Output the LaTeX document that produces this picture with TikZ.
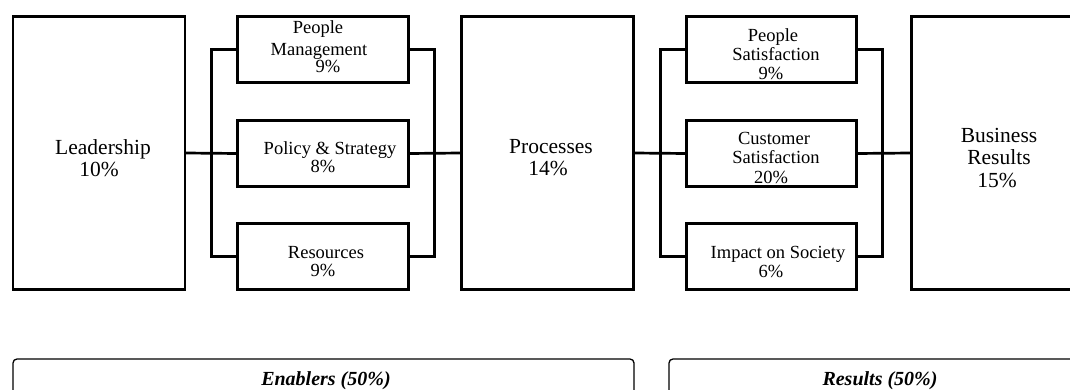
\documentclass[tikz,border=0pt]{standalone}
\usepackage{fontspec}
\setmainfont{Liberation Serif}
\begin{document}
\begin{tikzpicture}[x=1pt,y=-1pt,
  box/.style={draw, line width=2.7pt, inner sep=0pt, outer sep=0pt},
  bigbox/.style={box, minimum width=172pt, minimum height=273pt},
  smallbox/.style={box, minimum width=171pt, minimum height=66pt},
  conn/.style={line width=2.7pt},
  bigtxt/.style={anchor=base, inner sep=0pt, font=\fontsize{21.5}{24}\selectfont},
  smalltxt/.style={anchor=base, inner sep=0pt, font=\fontsize{18.5}{20}\selectfont},
  groupbox/.style={draw, line width=1.3pt, rounded corners=4pt},
  grouptxt/.style={anchor=base, inner sep=0pt, font=\fontsize{20}{22}\selectfont\bfseries\itshape}]
\useasboundingbox (0,0) rectangle (1070,390);
\clip (0,0) rectangle (1070,390);

% main boxes
\node[bigbox] (lead) at (99,153) {};
\node[bigbox] (proc) at (547.5,153) {};
\node[bigbox] (bus) at (997.5,153) {};

% enabler boxes
\node[smallbox] (pm) at (323,49.5) {};
\node[smallbox] (ps) at (323,153.5) {};
\node[smallbox] (res) at (323,256.5) {};

% result boxes
\node[smallbox, minimum width=170pt] (psat) at (771.5,49.5) {};
\node[smallbox, minimum width=170pt] (csat) at (771.5,153.5) {};
\node[smallbox, minimum width=170pt] (soc) at (771.5,256.5) {};

% connectors left group
\draw[conn] (lead.east) -- (ps.west);
\draw[conn] (pm.west) -- ++(-26,0) |- (res.west);
\draw[conn] (pm.east) -- ++(26,0) |- (res.east);
\draw[conn] (ps.east) -- (proc.west);

% connectors right group
\draw[conn] (proc.east) -- (csat.west);
\draw[conn] (psat.west) -- ++(-26,0) |- (soc.west);
\draw[conn] (psat.east) -- ++(26,0) |- (soc.east);
\draw[conn] (csat.east) -- (bus.west);

% texts big
\node[bigtxt] (t1) at (103,155) {Leadership};
\node[bigtxt] (t2) at (99,177) {10\%};
\node[bigtxt] (t3) at (551,154) {Processes};
\node[bigtxt] (t4) at (548,176) {14\%};
\node[bigtxt] (t5) at (999,143) {Business};
\node[bigtxt] (t6) at (999,165) {Results};
\node[bigtxt] (t7) at (997,187) {15\%};

% texts small left
\node[smalltxt] (s1) at (318,34) {People};
\node[smalltxt] (s2) at (319,56) {Management};
\node[smalltxt] (s3) at (328,73) {9\%};
\node[smalltxt] (s4) at (330,155) {Policy \& Strategy};
\node[smalltxt] (s5) at (323,173) {8\%};
\node[smalltxt] (s6) at (326,258) {Resources};
\node[smalltxt] (s7) at (323,276) {9\%};

% texts small right
\node[smalltxt] (r1) at (773,42) {People};
\node[smalltxt] (r2) at (776,61) {Satisfaction};
\node[smalltxt] (r3) at (771,80) {9\%};
\node[smalltxt] (r4) at (774,145) {Customer};
\node[smalltxt] (r5) at (776,164) {Satisfaction};
\node[smalltxt] (r6) at (771,183) {20\%};
\node[smalltxt] (r7) at (778,258) {Impact on Society};
\node[smalltxt] (r8) at (771,277) {6\%};

% group boxes
\draw[groupbox] (13,359) rectangle (634,420);
\draw[groupbox] (669,359) rectangle (1091,420);
\node[grouptxt] (g1) at (326,385) {Enablers (50\%)};
\node[grouptxt] (g2) at (880,385) {Results (50\%)};
\end{tikzpicture}
\end{document}
